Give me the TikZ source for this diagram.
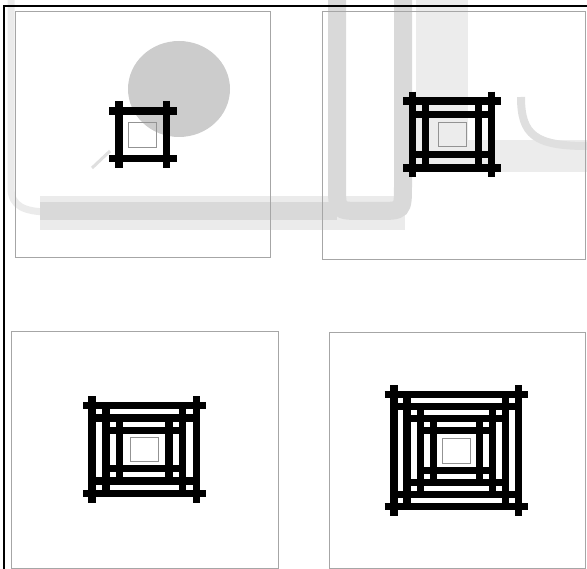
\documentclass[tikz,border=0pt]{standalone}
\usepackage{tikz}
\usetikzlibrary{positioning}

% nested hash frames: centre, frames, inner half sizes, steps, end overhang
\newcommand{\hashstack}[7]{%
  \begin{scope}[shift={(#1)}]
    \foreach \k in {1,...,#2} {
      \pgfmathsetmacro{\hx}{#3+(\k-1)*#5}
      \pgfmathsetmacro{\hy}{#4+(\k-1)*#6}
      \ifnum\k<#2 \def\ovx{#5}\def\ovy{#6}\else\def\ovx{#7}\def\ovy{#7}\fi
      \draw[hashbar] (-\hx-\ovx,-\hy) -- (\hx+\ovx,-\hy);
      \draw[hashbar] (-\hx-\ovx,\hy) -- (\hx+\ovx,\hy);
      \draw[hashbar] (-\hx,-\hy-\ovy) -- (-\hx,\hy+\ovy);
      \draw[hashbar] (\hx,-\hy-\ovy) -- (\hx,\hy+\ovy);
    }
    \draw[core] (-14,-12.3) rectangle (14,12.3);
  \end{scope}}

\begin{document}
\begin{tikzpicture}[
    x=1pt, y=-1pt,
    panel/.style={rectangle, draw=gray!70, line width=1pt, inner sep=0pt},
    hashbar/.style={black, line width=7.4pt},
    core/.style={draw=gray!85, line width=0.9pt},
    wmband/.style={gray!30, line width=18pt},
    wmlight/.style={gray!15},
]
    \useasboundingbox (0,0) rectangle (587,569);

    % faint background logo
    \fill[gray!40] (179,89) ellipse [x radius=51pt, y radius=48pt];
    \draw[gray!25, line width=3pt] (92,168) -- (110,151);
    \draw[gray!16, line width=7pt] (11,0) -- (11,188) .. controls (11,206) and (24,212) .. (50,212);
    \draw[gray!16, line width=34pt] (40,213) -- (405,213);
    \draw[wmband] (40,211) -- (337,211);
    \draw[wmband] (337,0) -- (337,185) .. controls (337,211) .. (362,211)
        -- (378,211) .. controls (403,211) .. (403,185) -- (403,0);
    \fill[wmlight] (416,0) rectangle (468,172);
    \fill[wmlight] (468,140) rectangle (587,172);
    \draw[gray!25, line width=8pt] (521,97) .. controls (521,135) and (535,146) .. (587,146);

    % outer frame
    \draw[black, line width=1.8pt] (4,569) -- (4,6) -- (587,6);

    % panels
    \node[panel, minimum width=255pt, minimum height=246pt] (p1) at (142.5,135) {};
    \node[panel, minimum width=263pt, minimum height=248pt] (p2) at (453.5,136) {};
    \node[panel, minimum width=267pt, minimum height=236pt] (p3) at (144.5,450) {};
    \node[panel, minimum width=256pt, minimum height=235pt] (p4) at (457,450.5) {};

    \hashstack{142.8,134.7}{1}{23.8}{23.7}{13}{12.5}{10}
    \hashstack{452,134.5}{2}{26.3}{19.8}{13.2}{13.6}{9.5}
    \hashstack{144.3,449.5}{3}{24.6}{19}{13.8}{12.6}{9}
    \hashstack{456.3,450.8}{4}{23}{20}{13.1}{12}{9.5}
\end{tikzpicture}
\end{document}
